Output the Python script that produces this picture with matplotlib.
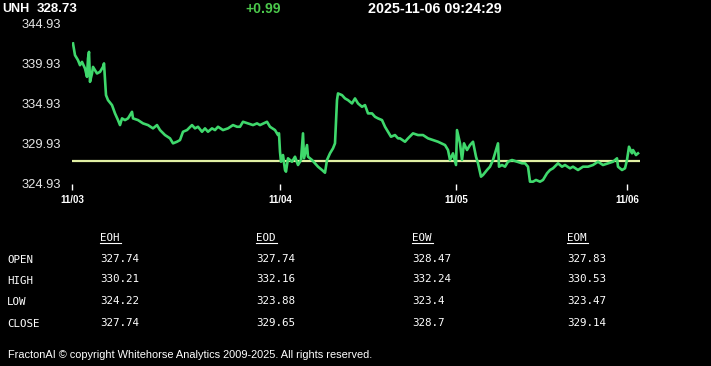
import matplotlib
matplotlib.use("Agg")
import matplotlib.pyplot as plt

# header
symbol = "UNH"
last_price = "328.73"
change = "+0.99"
timestamp = "2025-11-06 09:24:29"

# price trace (x = intraday bar offset from the 11/03 open)
bar_x = [1, 3, 6, 8, 10, 13, 15, 16, 17, 18, 20, 21, 25, 28, 31, 32, 33, 34, 36, 40,
         43, 46, 48, 50, 53, 56, 60, 61, 66, 71, 76, 81, 85, 88, 93, 98, 101, 105, 108,
         111, 115, 120, 123, 126, 130, 133, 136, 140, 143, 146, 151, 156, 161, 165, 168,
         171, 176, 181, 185, 188, 195, 198, 203, 206, 207, 208, 209, 210, 211, 213, 214,
         216, 220, 223, 226, 229, 231, 232, 235, 236, 240, 243, 246, 250, 253, 255, 258,
         261, 263, 265, 266, 270, 273, 276, 280, 283, 286, 290, 293, 296, 300, 303, 306,
         310, 313, 316, 319, 323, 326, 328, 333, 336, 341, 346, 351, 356, 361, 366, 373,
         376, 378, 381, 384, 385, 388, 390, 392, 395, 398, 401, 404, 406, 409, 411, 415,
         418, 421, 424, 426, 427, 430, 433, 436, 440, 445, 450, 453, 456, 458, 461, 464,
         468, 471, 475, 478, 481, 486, 490, 493, 498, 501, 506, 511, 516, 521, 526, 531,
         536, 541, 545, 546, 550, 553, 555, 557, 560, 561, 564, 566]
price = [342.39, 340.93, 340.31, 339.69, 340.10, 339.28, 338.24, 340.53, 341.34, 337.62,
         338.66, 339.48, 338.66, 338.86, 339.48, 339.91, 338.04, 335.97, 335.35, 334.73,
         333.70, 332.87, 332.25, 333.08, 332.87, 333.08, 333.90, 333.08, 332.87, 332.46,
         332.25, 331.84, 332.25, 331.63, 331.01, 330.60, 329.98, 330.18, 330.39, 331.42,
         331.63, 332.25, 331.84, 332.04, 331.42, 331.84, 331.42, 331.84, 331.63, 332.04,
         331.63, 331.84, 332.25, 332.04, 332.04, 332.66, 332.46, 332.25, 332.46, 332.25,
         332.66, 332.04, 331.63, 331.01, 331.22, 328.94, 327.70, 328.32, 328.53, 326.67,
         326.46, 328.12, 327.70, 328.32, 327.29, 327.91, 331.22, 328.12, 329.77, 328.32,
         327.91, 327.50, 327.08, 326.67, 326.33, 327.91, 328.74, 329.36, 329.98, 335.35,
         336.18, 335.97, 335.56, 335.35, 334.94, 335.56, 334.94, 334.52, 334.73, 333.70,
         333.70, 333.28, 333.08, 332.87, 332.04, 331.42, 330.80, 331.01, 330.60, 330.60,
         330.18, 330.60, 331.22, 331.01, 331.01, 330.60, 330.39, 330.18, 329.77, 329.15,
         327.91, 328.74, 327.29, 331.63, 329.98, 327.91, 329.98, 329.15, 329.77, 330.18,
         328.32, 327.50, 325.84, 326.05, 326.67, 327.08, 327.91, 329.15, 329.98, 327.08,
         327.29, 327.08, 327.70, 327.91, 327.70, 327.50, 327.50, 327.08, 325.22, 325.22,
         325.43, 325.22, 325.43, 326.26, 326.67, 326.88, 327.50, 327.08, 327.29, 326.88,
         327.08, 326.67, 327.08, 327.08, 327.29, 327.70, 327.29, 327.50, 327.70, 328.12,
         327.08, 326.67, 326.88, 327.91, 329.56, 328.74, 329.15, 328.53, 328.74]
prev_close = 327.74

day_ticks = [0, 208, 384, 555]
day_labels = ["11/03", "11/04", "11/05", "11/06"]
y_ticks = [324.93, 329.93, 334.93, 339.93, 344.93]

# OHLC table
table_cols = ["EOH", "EOD", "EOW", "EOM"]
table_rows = ["OPEN", "HIGH", "LOW", "CLOSE"]
eoh = ["327.74", "330.21", "324.22", "327.74"]
eod = ["327.74", "332.16", "323.88", "329.65"]
eow = ["328.47", "332.24", "323.4", "328.7"]
eom = ["327.83", "330.53", "323.47", "329.14"]

footer = "FractonAI \u00a9 copyright Whitehorse Analytics 2009-2025. All rights reserved."

W, H = 711, 366
fig = plt.figure(figsize=(W / 100, H / 100), dpi=100, facecolor="black")


def fx(px):
    return px / W


def fy(py):
    return 1 - py / H


ax = fig.add_axes([fx(72), fy(184), fx(640) - fx(72), fy(23) - fy(184)])
ax.set_facecolor("black")
ax.plot(bar_x, price, color="#3fd86c", linewidth=1.9, zorder=3)
ax.axhline(prev_close, color="#e2f0a4", linewidth=1.6, zorder=2)
ax.set_xlim(0, 568)
ax.set_ylim(324.93, 344.93)
for s in ax.spines.values():
    s.set_visible(False)
ax.set_yticks(y_ticks)
ax.set_yticklabels([f"{v:.2f}" for v in y_ticks])
ax.tick_params(axis="y", length=0, pad=8, labelcolor="#e6e6e6", labelsize=9.3)
ax.set_xticks(day_ticks)
ax.set_xticklabels(day_labels)
ax.tick_params(axis="x", length=4, width=1, color="white", pad=4,
               labelcolor="white", labelsize=7)
for lab in ax.get_yticklabels():
    lab.set_fontfamily("Liberation Sans")
for lab in ax.get_xticklabels():
    lab.set_fontfamily("Liberation Sans")
    lab.set_fontweight("bold")

# header text
hdr = dict(color="white", fontsize=10, fontweight="bold", family="Liberation Sans",
           va="center", ha="left")
fig.text(fx(2), fy(9), symbol, **{**hdr, "fontsize": 9})
fig.text(fx(37), fy(9), last_price, **{**hdr, "fontsize": 9.5})
fig.text(fx(245), fy(9), change, **{**hdr, "color": "#4cc94c"})
fig.text(fx(368), fy(9), timestamp, **{**hdr, "fontsize": 10.3})

# table
mono = dict(color="white", fontsize=7.8, family="DejaVu Sans Mono", va="center", ha="left")
col_x = [100, 256, 412, 567]
row_y = [260, 281, 302, 324]
for cx, name in zip(col_x, table_cols):
    fig.text(fx(cx), fy(238), name, **mono)
    fig.add_artist(plt.Line2D([fx(cx), fx(cx + 21)], [fy(243), fy(243)],
                              color="white", linewidth=0.8))
for ry, name in zip(row_y, table_rows):
    fig.text(fx(7), fy(ry), name, **mono)
for cx, vals in zip(col_x, [eoh, eod, eow, eom]):
    for ry, v in zip(row_y, vals):
        fig.text(fx(cx), fy(ry - 1.5), v, **mono)

fig.text(fx(8), fy(355), footer, color="white", fontsize=7.9,
         family="Liberation Sans", va="center", ha="left")

fig.savefig("out.png", dpi=100, facecolor="black")
